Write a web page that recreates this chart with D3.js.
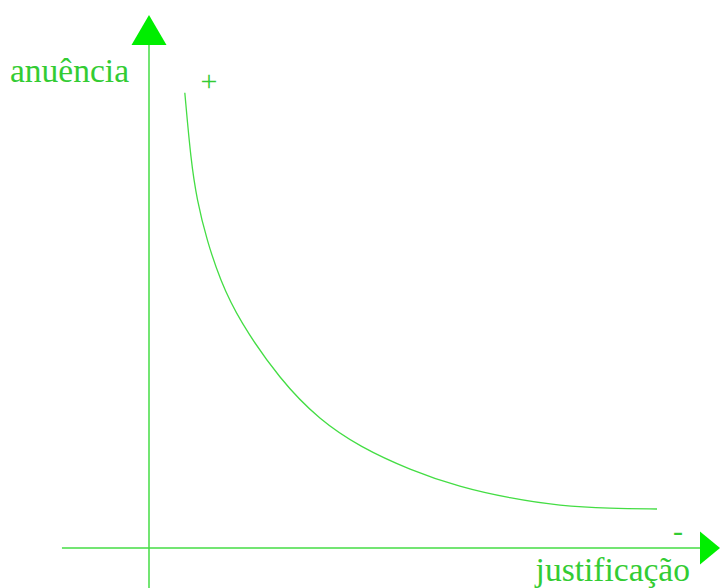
<!DOCTYPE html>
<meta charset="utf-8">
<script src="https://d3js.org/d3.v7.min.js"></script>
<style>
  body { margin: 0; background: #fff; }
  text { font-family: "Liberation Serif", "DejaVu Serif", serif; fill: #33cc33; }
</style>
<body>
  <div id="my_dataviz"></div>
  <script>

    // Curve (justificação vs anuência, arbitrary units 0..10)
    var justificacao = [0.65, 0.76, 0.87, 1.05, 1.29, 1.63, 2.38, 3.10, 3.83, 4.74, 5.64, 6.55, 7.46, 8.37, 9.22];
    var anuencia     = [9.05, 7.71, 6.92, 6.12, 5.33, 4.53, 3.34, 2.54, 2.01, 1.55, 1.21, 0.99, 0.835, 0.785, 0.775];
    var axisLabels = ["justificação", "anuência"];
    var endLabels = ["+", "-"];

    var width = 720, height = 588;

    var svg = d3.select("#my_dataviz")
      .append("svg")
        .attr("width", width)
        .attr("height", height);

    // Scales: origin where the two axes cross
    var x = d3.scaleLinear().domain([0, 10]).range([149, 700]);
    var y = d3.scaleLinear().domain([0, 10]).range([548, 45]);

    var green = "#44dd44";

    // Vertical axis
    svg.append("line")
      .attr("x1", x(0)).attr("x2", x(0))
      .attr("y1", height).attr("y2", y(10))
      .attr("stroke", green)
      .attr("stroke-width", 1.5);

    // Horizontal axis
    svg.append("line")
      .attr("x1", x(-1.58)).attr("x2", x(10))
      .attr("y1", y(0)).attr("y2", y(0))
      .attr("stroke", green)
      .attr("stroke-width", 1.5);

    // Arrow heads
    svg.append("path")
      .attr("d", "M" + x(0) + "," + (y(10) - 30) + "L" + (x(0) + 17.5) + "," + y(10) + "L" + (x(0) - 17.5) + "," + y(10) + "Z")
      .attr("fill", "#00ee00");

    svg.append("path")
      .attr("d", "M" + (x(10) + 20) + "," + y(0) + "L" + x(10) + "," + (y(0) - 16.5) + "L" + x(10) + "," + (y(0) + 16.5) + "Z")
      .attr("fill", "#00ee00");

    // The curve
    var data = justificacao.map(function(d, i) { return {j: d, a: anuencia[i]}; });

    svg.append("path")
      .datum(data)
      .attr("fill", "none")
      .attr("stroke", green)
      .attr("stroke-width", 1.3)
      .attr("d", d3.line()
        .curve(d3.curveBasis)
        .x(function(d) { return x(d.j); })
        .y(function(d) { return y(d.a); })
      );

    // Axis labels
    svg.append("text")
      .attr("x", 690)
      .attr("y", 581)
      .attr("text-anchor", "end")
      .attr("font-size", 33.5)
      .text(axisLabels[0]);

    svg.append("text")
      .attr("x", 10)
      .attr("y", 82)
      .attr("font-size", 33.5)
      .text(axisLabels[1]);

    // + and - markers
    svg.append("text")
      .attr("x", 209)
      .attr("y", 91)
      .attr("text-anchor", "middle")
      .attr("font-size", 30)
      .text(endLabels[0]);

    svg.append("text")
      .attr("x", 678)
      .attr("y", 541)
      .attr("text-anchor", "middle")
      .attr("font-size", 30)
      .text(endLabels[1]);

  </script>
</body>
